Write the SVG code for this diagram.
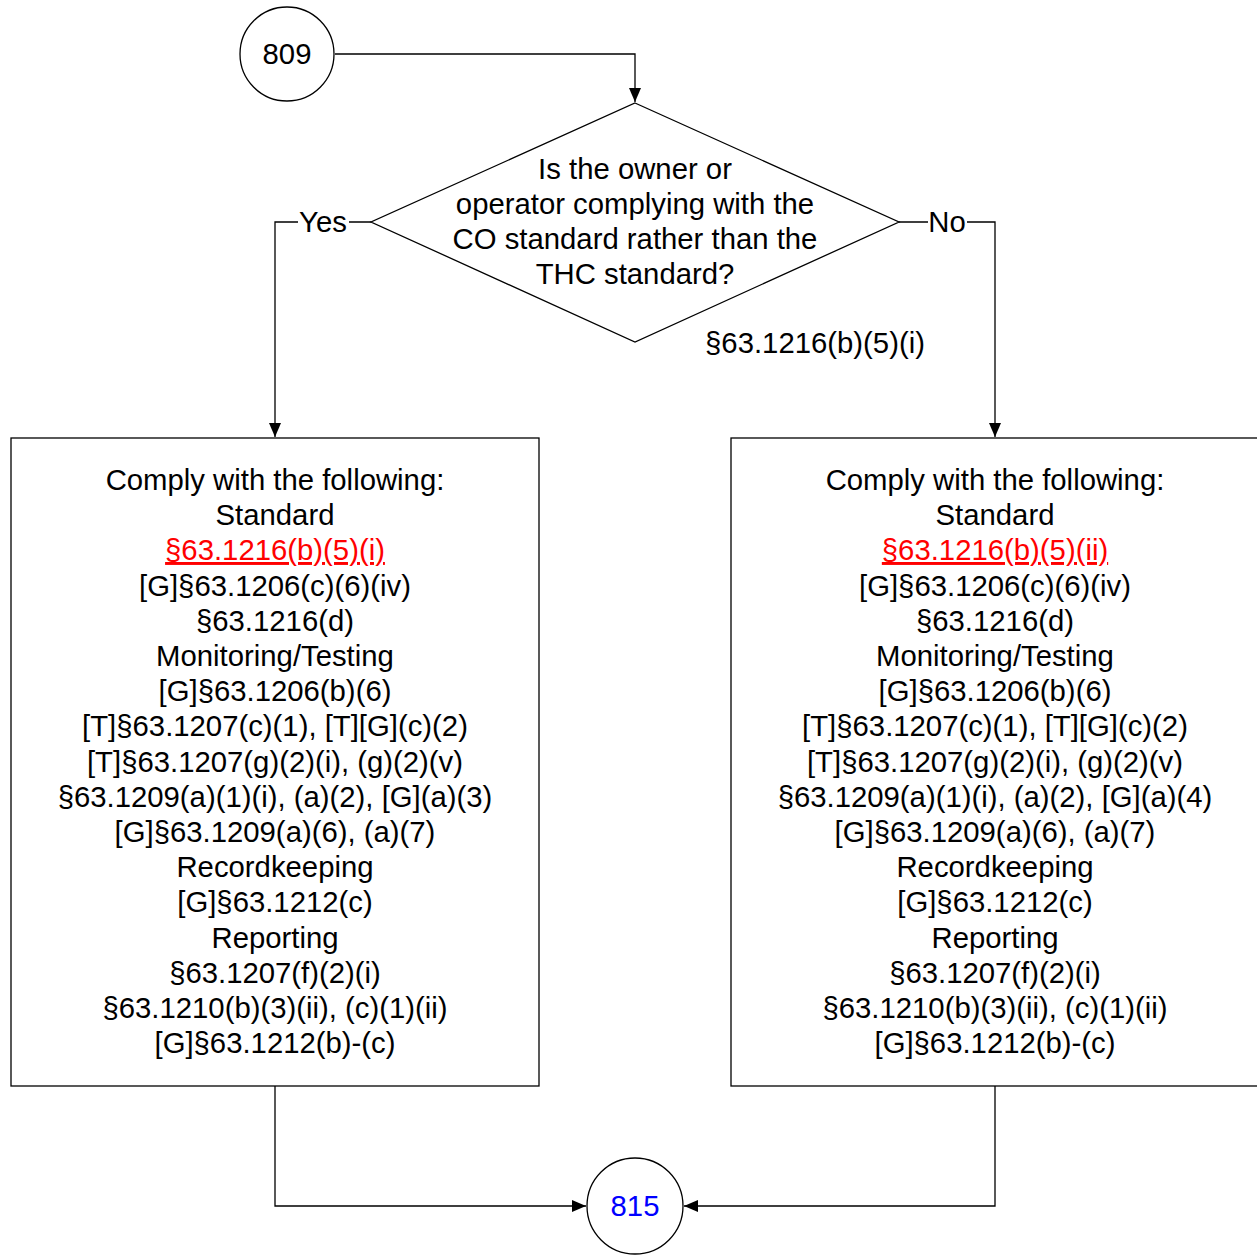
<svg xmlns="http://www.w3.org/2000/svg" width="1257" height="1256" viewBox="0 0 1257 1256">
<style>
  text { font-family: "Liberation Sans", Arial, sans-serif; font-size: 29.3px; fill: #000; text-anchor: middle; }
  .shape { fill: #fff; stroke: #000; stroke-width: 1.3; }
  .conn { fill: none; stroke: #000; stroke-width: 1.3; }
  .link { fill: #ff0000; text-decoration: underline; }
  .blue { fill: #0000ff; }
</style>
<defs>
  <marker id="arr" markerWidth="14" markerHeight="14" refX="14" refY="7" orient="auto" markerUnits="userSpaceOnUse">
    <path d="M0,1 L14,7 L0,13 Z" fill="#000"/>
  </marker>
</defs>
<rect width="1257" height="1256" fill="#fff"/>
<g id="connectors">
  <polyline class="conn" points="335,54 635,54 635,102" marker-end="url(#arr)"/>
  <polyline class="conn" points="371,222 275,222 275,437" marker-end="url(#arr)"/>
  <polyline class="conn" points="899,222 995,222 995,437" marker-end="url(#arr)"/>
  <polyline class="conn" points="275,1086 275,1206 586,1206" marker-end="url(#arr)"/>
  <polyline class="conn" points="995,1086 995,1206 684,1206" marker-end="url(#arr)"/>
  <rect x="298" y="206" width="51" height="32" fill="#fff"/>
  <text x="323" y="232">Yes</text>
  <rect x="928" y="206" width="39" height="32" fill="#fff"/>
  <text x="947" y="232">No</text>
</g>
<g id="node-809">
  <circle class="shape" cx="287" cy="54" r="47"/>
  <text x="287" y="64">809</text>
</g>
<g id="node-decision">
  <polygon class="shape" points="635,103 899,222 635,342 371,222"/>
  <text x="635" y="179">Is the owner or</text>
  <text x="635" y="214">operator complying with the</text>
  <text x="635" y="249">CO standard rather than the</text>
  <text x="635" y="284">THC standard?</text>
</g>
<g id="label-ref">
  <text x="815" y="353">§63.1216(b)(5)(i)</text>
</g>
<g id="node-left">
  <rect class="shape" x="11" y="438" width="528" height="648"/>
  <text x="275" y="490">Comply with the following:</text>
  <text x="275" y="525">Standard</text>
  <text x="275" y="560" class="link">§63.1216(b)(5)(i)</text>
  <text x="275" y="596">[G]§63.1206(c)(6)(iv)</text>
  <text x="275" y="631">§63.1216(d)</text>
  <text x="275" y="666">Monitoring/Testing</text>
  <text x="275" y="701">[G]§63.1206(b)(6)</text>
  <text x="275" y="736">[T]§63.1207(c)(1), [T][G](c)(2)</text>
  <text x="275" y="772">[T]§63.1207(g)(2)(i), (g)(2)(v)</text>
  <text x="275" y="807">§63.1209(a)(1)(i), (a)(2), [G](a)(3)</text>
  <text x="275" y="842">[G]§63.1209(a)(6), (a)(7)</text>
  <text x="275" y="877">Recordkeeping</text>
  <text x="275" y="912">[G]§63.1212(c)</text>
  <text x="275" y="948">Reporting</text>
  <text x="275" y="983">§63.1207(f)(2)(i)</text>
  <text x="275" y="1018">§63.1210(b)(3)(ii), (c)(1)(ii)</text>
  <text x="275" y="1053">[G]§63.1212(b)-(c)</text>
</g>
<g id="node-right">
  <rect class="shape" x="731" y="438" width="528" height="648"/>
  <text x="995" y="490">Comply with the following:</text>
  <text x="995" y="525">Standard</text>
  <text x="995" y="560" class="link">§63.1216(b)(5)(ii)</text>
  <text x="995" y="596">[G]§63.1206(c)(6)(iv)</text>
  <text x="995" y="631">§63.1216(d)</text>
  <text x="995" y="666">Monitoring/Testing</text>
  <text x="995" y="701">[G]§63.1206(b)(6)</text>
  <text x="995" y="736">[T]§63.1207(c)(1), [T][G](c)(2)</text>
  <text x="995" y="772">[T]§63.1207(g)(2)(i), (g)(2)(v)</text>
  <text x="995" y="807">§63.1209(a)(1)(i), (a)(2), [G](a)(4)</text>
  <text x="995" y="842">[G]§63.1209(a)(6), (a)(7)</text>
  <text x="995" y="877">Recordkeeping</text>
  <text x="995" y="912">[G]§63.1212(c)</text>
  <text x="995" y="948">Reporting</text>
  <text x="995" y="983">§63.1207(f)(2)(i)</text>
  <text x="995" y="1018">§63.1210(b)(3)(ii), (c)(1)(ii)</text>
  <text x="995" y="1053">[G]§63.1212(b)-(c)</text>
</g>
<g id="node-815">
  <circle class="shape" cx="635" cy="1206" r="48"/>
  <text x="635" y="1216" class="blue">815</text>
</g>
</svg>
